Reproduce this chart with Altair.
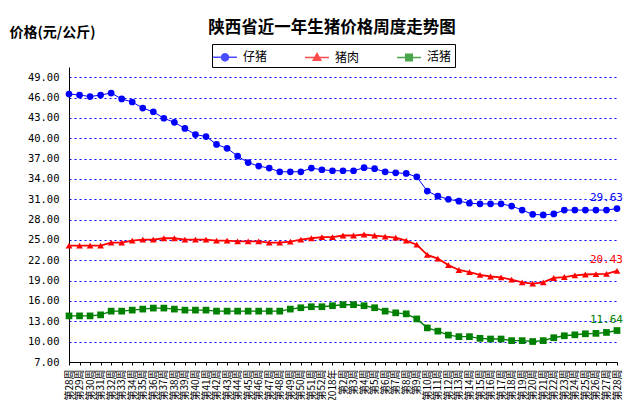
import altair as alt
import pandas as pd
import math

# ---- data ----
week_labels = (["第%d周" % w for w in range(28, 53)] + ["2018年"] +
               ["第%d周" % w for w in range(2, 29)])

series_names = ["仔猪", "猪肉", "活猪"]
series_colors = ["#0000FF", "#FF0000", "#008000"]
series_shapes = ["circle", "triangle-up", "square"]
series_widths = [1.0, 1.8, 1.8]

piglet = [46.51, 46.37, 46.14, 46.37, 46.66, 45.79, 45.34, 44.44, 43.90, 42.94,
          42.34, 41.44, 40.54, 40.24, 39.09, 38.51, 37.37, 36.40, 35.89, 35.59,
          35.05, 35.05, 35.05, 35.59, 35.35, 35.20, 35.20, 35.20, 35.65, 35.50,
          35.05, 34.90, 34.80, 34.30, 32.20, 31.45, 31.00, 30.71, 30.42, 30.32,
          30.32, 30.32, 29.99, 29.41, 28.77, 28.68, 28.83, 29.40, 29.40, 29.40,
          29.40, 29.40, 29.63]
pork = [24.15, 24.15, 24.15, 24.15, 24.60, 24.60, 24.90, 25.05, 25.05, 25.25,
        25.25, 25.05, 25.05, 25.05, 24.90, 24.90, 24.80, 24.80, 24.80, 24.60,
        24.60, 24.75, 25.05, 25.25, 25.40, 25.40, 25.65, 25.65, 25.80, 25.65,
        25.50, 25.35, 24.90, 24.30, 22.80, 22.25, 21.29, 20.57, 20.24, 19.86,
        19.61, 19.47, 19.14, 18.75, 18.55, 18.75, 19.39, 19.53, 19.76, 19.90,
        19.96, 20.00, 20.43]
hog = [13.80, 13.80, 13.80, 13.95, 14.50, 14.50, 14.65, 14.80, 14.95, 14.95,
       14.80, 14.65, 14.65, 14.65, 14.50, 14.50, 14.50, 14.50, 14.50, 14.50,
       14.50, 14.80, 15.00, 15.15, 15.15, 15.30, 15.45, 15.45, 15.30, 15.00,
       14.50, 14.25, 14.10, 13.35, 12.03, 11.55, 10.97, 10.74, 10.74, 10.49,
       10.39, 10.39, 10.15, 10.15, 10.02, 10.15, 10.58, 10.87, 11.01, 11.16,
       11.22, 11.36, 11.64]

y_ticks = [7, 10, 13, 16, 19, 22, 25, 28, 31, 34, 37, 40, 43, 46, 49]

rows = []
for name, vals in zip(series_names, [piglet, pork, hog]):
    for i, v in enumerate(vals):
        rows.append({"idx": i, "series": name, "value": v})
df = pd.DataFrame(rows)
last_idx = len(week_labels) - 1

CJK = "Noto Sans CJK SC"
MONO = "DejaVu Sans Mono"

label_expr = "[" + ",".join("'%s'" % t for t in week_labels) + "][datum.value]"

x_enc = alt.X(
    "idx:Q",
    scale=alt.Scale(domain=[0, last_idx], nice=False, zero=False),
    axis=alt.Axis(values=list(range(len(week_labels))), labelExpr=label_expr,
                  labelAngle=270, labelFont=CJK, labelFontSize=10,
                  labelColor="black", labelOverlap=False, labelFlush=False,
                  labelPadding=4, tickSize=3, tickColor="black",
                  domainColor="black", grid=False, title=None),
)
y_enc = alt.Y(
    "value:Q",
    scale=alt.Scale(domain=[7, 50.5], nice=False, zero=False),
    axis=alt.Axis(values=y_ticks, format=".2f", grid=True, gridColor="#0000FF",
                  gridDash=[2, 3], gridWidth=1, ticks=False, labelPadding=10,
                  labelFont=MONO, labelFontSize=10.5, labelColor="black",
                  domainColor="black",
                  title="价格(元/公斤)", titleAngle=0, titleAlign="left",
                  titleBaseline="middle", titleX=-60, titleY=-35,
                  titleFont=CJK, titleFontSize=14, titleFontWeight="bold",
                  titleColor="black"),
)

# colour / width scales use the data-derived (sorted) domain, so that their
# hidden legends are not merged with the visible legend below
sorted_names = sorted(series_names)
color_scale = alt.Scale(range=[series_colors[series_names.index(n)] for n in sorted_names])
width_scale = alt.Scale(range=[series_widths[series_names.index(n)] for n in sorted_names])


# legend symbols: a short line with the series marker drawn as nested outlines
def poly(pts):
    return "M" + "L".join("%.3f,%.3f" % p for p in pts) + "Z"


def circ(r):
    return poly([(r * math.cos(2 * math.pi * k / 12), r * math.sin(2 * math.pi * k / 12)) for k in range(12)])


def sq(s):
    return poly([(-s, -s), (s, -s), (s, s), (-s, s)])


def tri(k):
    cy = 0.05
    return poly([(0, cy - 0.5 * k), (0.42 * k, cy + 0.25 * k), (-0.42 * k, cy + 0.25 * k)])


LINE = "M-1.330,0L1.330,0"
legend_paths = [
    LINE + "".join(circ(r) for r in [0.4, 0.33, 0.26, 0.19, 0.12, 0.05]),
    LINE + "".join(tri(k) for k in [1.0, 0.85, 0.7, 0.55, 0.4, 0.25, 0.1]),
    LINE + "".join(sq(s) for s in [0.37, 0.3, 0.23, 0.16, 0.09, 0.03]),
]


def make_legend():
    return alt.Legend(
        orient="none", legendX=143, legendY=-23, direction="horizontal",
        title=None, strokeColor="black", padding=3, labelFont=CJK,
        labelFontSize=12, labelColor="black", symbolSize=324, columnPadding=34,
        labelOffset=8, symbolStrokeWidth=1.4,
    )


base = alt.Chart(df)

lines = base.mark_line().encode(
    x=x_enc, y=y_enc,
    color=alt.Color("series:N", scale=color_scale, legend=None),
    strokeWidth=alt.StrokeWidth("series:N", scale=width_scale, legend=None),
)

point_layers = [
    base.transform_filter(alt.datum.series == s).mark_point(
        filled=True, size=45, opacity=1, shape=shp
    ).encode(x=x_enc, y=y_enc,
             color=alt.Color("series:N", scale=color_scale, legend=None))
    for s, shp in zip(series_names, series_shapes)
]

# legend source: no marks drawn, only the legend from its explicit scales
legend_src = base.transform_filter("false").mark_point(filled=False).encode(
    x=x_enc, y=y_enc,
    stroke=alt.Stroke("series:N", scale=alt.Scale(domain=series_names, range=series_colors), legend=make_legend()),
    shape=alt.Shape("series:N", scale=alt.Scale(domain=series_names, range=legend_paths), legend=make_legend()),
)

texts = base.transform_filter("datum.idx == %d" % last_idx).mark_text(
    align="right", baseline="middle", dx=6, dy=-11, font=MONO, fontSize=11
).encode(
    x=x_enc, y=y_enc,
    text=alt.Text("value:Q", format=".2f"),
    color=alt.Color("series:N", scale=color_scale, legend=None),
)

chart = alt.layer(lines, *point_layers, texts, legend_src).properties(
    width=548, height=295,
    padding={"left": 61, "top": 59, "right": 6, "bottom": 38},
    autosize=alt.AutoSizeParams(type="none"),
    title=alt.TitleParams("陕西省近一年生猪价格周度走势图", font=CJK, fontSize=16.5,
                          fontWeight="bold", color="black", anchor="middle",
                          frame="group", dx=-11, dy=15),
    background="white",
).configure_view(stroke=None)

chart.save("out.html", embed_options={"renderer": "svg", "actions": False})
